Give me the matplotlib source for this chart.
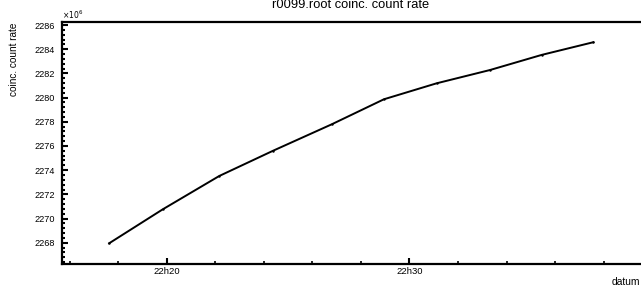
import matplotlib
matplotlib.use("Agg")
import matplotlib.pyplot as plt
from matplotlib.ticker import MultipleLocator, FuncFormatter

plt.rcParams['font.family'] = ['Liberation Sans', 'DejaVu Sans']

# data: time of measurement (minutes after 22h00) and coincidence count rate (x1e6)
times_min = [17.63, 19.84, 22.17, 24.39, 26.80, 28.95, 31.12, 33.32, 35.45, 37.58]
rates_e6 = [2267.95, 2270.76, 2273.52, 2275.61, 2277.79, 2279.86, 2281.18, 2282.28, 2283.53, 2284.58]

title = "r0099.root coinc. count rate"
ylabel = "coinc. count rate"
xlabel = "datum"

W, H = 641, 287
fig = plt.figure(figsize=(W / 100, H / 100), dpi=100)
ax = fig.add_axes([62 / W, 1 - 264 / H, 1 - 62 / W, (264 - 22) / H])

ax.plot(times_min, rates_e6, color='black', lw=1.4, marker='.', markersize=1.5)

ax.set_xlim(15.69, 39.54)
ax.set_ylim(2266.24, 2286.25)

ax.xaxis.set_major_locator(MultipleLocator(10))
ax.xaxis.set_minor_locator(MultipleLocator(2))
ax.xaxis.set_major_formatter(FuncFormatter(lambda v, p: f"22h{int(round(v)):02d}"))
ax.yaxis.set_major_locator(MultipleLocator(2))
ax.yaxis.set_minor_locator(MultipleLocator(0.4))
ax.yaxis.set_major_formatter(FuncFormatter(lambda v, p: f"{int(round(v))}"))

ax.tick_params(axis='both', which='both', direction='in', color='black')
ax.tick_params(axis='y', which='major', length=4.5, width=1.5, labelsize=6.6, pad=5)
ax.tick_params(axis='y', which='minor', length=2.2, width=1.5)
ax.tick_params(axis='x', which='major', length=4.5, width=1.5, labelsize=6.8, pad=2)
ax.tick_params(axis='x', which='minor', length=2.5, width=1.2)

for s in ['left', 'bottom', 'top']:
    ax.spines[s].set_linewidth(1.6)
ax.spines['right'].set_visible(False)

fig.text(351 / W, 1 - 7.5 / H, title, ha='center', va='baseline', fontsize=9.3)
fig.text(9 / W, 1 - 23 / H, ylabel, rotation=90, ha='left', va='top', fontsize=7.2)
fig.text(640 / W, 1 - 282 / H, xlabel, ha='right', va='center', fontsize=7.4)
ax.text(0.0, 1.005, r"$\times10^{6}$", transform=ax.transAxes, ha='left', va='bottom', fontsize=5.5)

fig.savefig("out.png", dpi=100)
